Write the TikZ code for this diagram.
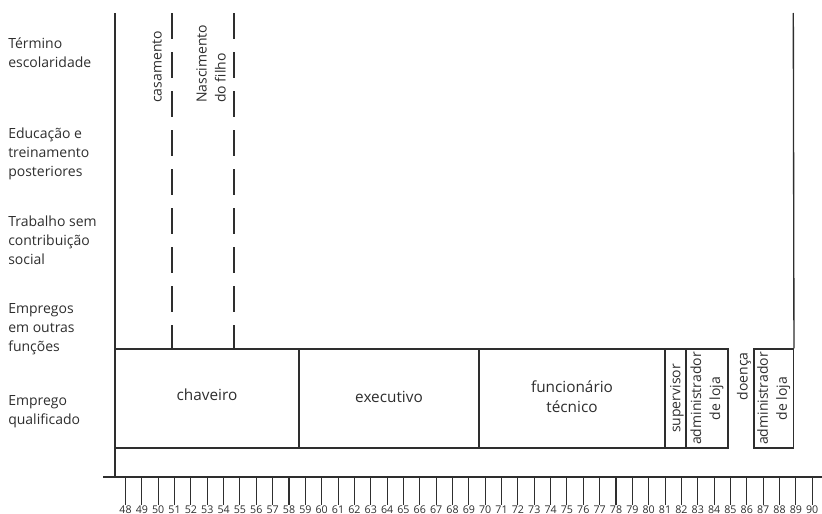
\documentclass[tikz,border=0pt]{standalone}
\usepackage{fontspec}
\setmainfont{Open Sans}
\usetikzlibrary{fit}
\definecolor{ink}{HTML}{2E2E2E}
\begin{document}
\begin{tikzpicture}[x=0.75pt,y=-0.75pt,
  ln/.style={draw=ink, line width=1pt},
  dashln/.style={ln, dash pattern=on 19.5pt off 9.75pt},
  box/.style={ln, inner sep=0pt},
  txt/.style={text=ink, inner sep=0pt, align=center, font=\fontsize{11.5}{15}\selectfont},
  rowlab/.style={text=ink, inner sep=0pt, anchor=base west, align=left, font=\fontsize{10.5}{14.25}\selectfont},
  vlab/.style={text=ink, inner sep=0pt, rotate=90, font=\fontsize{10.5}{14.25}\selectfont},
  tickln/.style={draw=ink, line width=0.8pt},
  ticklab/.style={text=ink, inner sep=0pt, anchor=base, font=\fontsize{8}{9}\selectfont}]
\useasboundingbox (0,0) rectangle (822,514);

% row labels (anchor = baseline of last line)
\node[rowlab] (r1) at (8,67) {Término\\escolaridade};
\node[rowlab] (r2) at (8,176) {Educação e\\treinamento\\posteriores};
\node[rowlab] (r3) at (8,264) {Trabalho sem\\contribuição\\social};
\node[rowlab] (r4) at (8,351) {Empregos\\em outras\\funções};
\node[rowlab] (r5) at (8,424) {Emprego\\qualificado};

% boxes
\node[box, fit={(115,349)(299,448)}] (chav) {};
\node[box, fit={(299,349)(479,448)}] (exec) {};
\node[box, fit={(479,349)(665,448)}] (func) {};
\node[box, fit={(665,349)(686,448)}] (sup) {};
\node[box, fit={(686,349)(728,448)}] (adm1) {};
\node[box, fit={(754,349)(793.3,448)}] (adm2) {};

\node[txt] (tchav) at ([yshift=3pt]chav.center) {chaveiro};
\node[txt] (texec) at ([yshift=1pt]exec.center) {executivo};
\node[txt] (tfunc) at ([yshift=1pt]func.center) {funcionário\\técnico};
\node[vlab] (tsup) at ([xshift=1pt]sup.center) {supervisor};
\node[vlab, align=center] (tadm1) at (adm1.center) {administrador\\de loja};
\node[vlab, align=center] (tadm2) at (adm2.center) {administrador\\de loja};
\node[vlab, anchor=east] (tdoe) at (744,352) {doença};

% axes
\coordinate (ltop) at (115,13);
\coordinate (lbot) at (115,477);
\coordinate (axL) at (103,477);
\coordinate (axR) at (822,477);
\coordinate (rtop) at (793.3,13);
\draw[ln] (ltop) -- (lbot);
\draw[ln] (axL) -- (axR);
\draw[ln] (rtop) -- (adm2.north east);

% events
\coordinate (c1) at (172,13);
\coordinate (c2) at (234,13);
\draw[dashln] (c1) -- (c1 |- chav.north);
\draw[dashln] (c2) -- (c2 |- chav.north);
\node[vlab, anchor=west] (tcas) at (157,103) {casamento};
\node[vlab, anchor=west, align=left] (tnas) at (211,103) {Nascimento\\do filho};

% ticks
\foreach \yr [count=\i from 0] in {48,...,90} {
  \pgfmathsetmacro\xx{125.5+16.35*\i}
  \coordinate (t\yr) at (\xx,478);
  \draw[tickln] (t\yr) -- ++(0,27);
  \node[ticklab] (l\yr) at (\xx,513) {\yr};
}
\end{tikzpicture}
\end{document}
